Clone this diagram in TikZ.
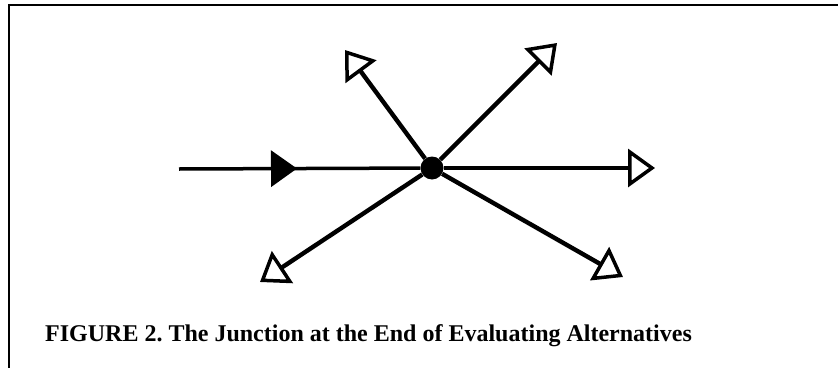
\documentclass[tikz,border=0pt]{standalone}
\usepackage{fontspec}
\setmainfont{Liberation Serif}
\usetikzlibrary{arrows.meta,decorations.markings}
\frenchspacing
\tikzset{
  frameline/.style={line width=2pt, line cap=rect},
  branch/.style={line width=4.4pt, -{Triangle[open, length=27pt, width=38pt, line width=3.5pt]}},
  junction/.style={circle, fill=black, inner sep=0pt, minimum size=23pt},
  captiontext/.style={font=\bfseries\fontsize{24pt}{28pt}\selectfont, inner sep=0pt, anchor=base west}
}
\begin{document}
\begin{tikzpicture}[x=1pt, y=-1pt]
  \useasboundingbox (0,0) rectangle (838,367);
  \coordinate (tl) at (9,5);
  \coordinate (tr) at (838,5);
  \coordinate (bl) at (9,367);
  \draw[frameline] (bl) -- (tl) -- (tr);

  \node[junction] (dot) at (432,168) {};
  \coordinate (in) at (179,169);
  \coordinate (right) at (655,168);
  \coordinate (ul) at (345,50);
  \coordinate (ur) at (557,43);
  \coordinate (ll) at (260,282);
  \coordinate (lr) at (623,277);

  \draw[line width=3.5pt,
    postaction={decorate, decoration={markings,
      mark=at position 118pt with {\arrow{Triangle[length=26pt, width=36pt]}}}}]
    (in) -- (dot);
  \draw[branch, line width=3.5pt] (dot) -- (right);
  \draw[branch] (dot) -- (ul);
  \draw[branch] (dot) -- (ur);
  \draw[branch] (dot) -- (ll);
  \draw[branch] (dot) -- (lr);

  \node[captiontext] (cap) at (45,341) {FIGURE 2. The Junction at the End of Evaluating Alternatives};
\end{tikzpicture}
\end{document}
